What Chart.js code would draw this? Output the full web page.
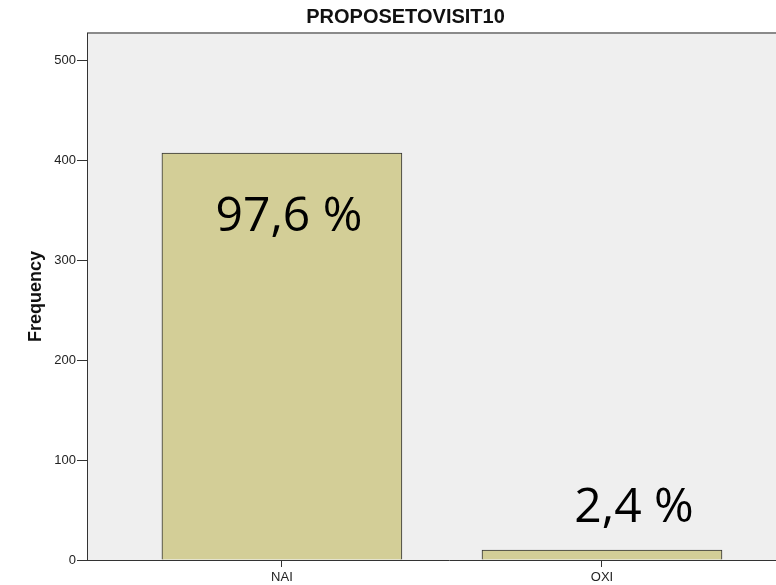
<!DOCTYPE html>
<html>
<head>
<meta charset="utf-8">
<script src="https://cdn.jsdelivr.net/npm/chart.js@4/dist/chart.umd.min.js"></script>
<style>
html,body{margin:0;padding:0;background:#fff;overflow:hidden;width:776px;height:585px;}
canvas{display:block;}
</style>
</head>
<body>
<canvas id="c" width="811" height="585"></canvas>
<script>
const categories = ['NAI', 'OXI'];
const frequencies = [407, 10];
const percentLabels = ['97,6 %', '2,4 %'];
const yTicks = [0, 100, 200, 300, 400, 500];

const bgPlugin = {
  id: 'bg',
  beforeDraw(chart) {
    const {ctx, chartArea: a} = chart;
    ctx.save();
    ctx.fillStyle = '#fff';
    ctx.fillRect(0, 0, chart.width, chart.height);
    ctx.fillStyle = '#efefef';
    ctx.fillRect(a.left, a.top, a.right - a.left, a.bottom - a.top);
    ctx.strokeStyle = '#8a8a8a';
    ctx.lineWidth = 2;
    ctx.beginPath();
    ctx.moveTo(a.left, a.top);
    ctx.lineTo(a.right, a.top);
    ctx.stroke();
    ctx.restore();
  }
};

const pctPlugin = {
  id: 'pct',
  afterDatasetsDraw(chart) {
    const {ctx, scales: {x, y}} = chart;
    const anchors = [[0.022, 329], [0.1, 38]];
    ctx.save();
    ctx.font = '48px "Open Sans"';
    ctx.fillStyle = '#000';
    ctx.textAlign = 'center';
    ctx.textBaseline = 'alphabetic';
    percentLabels.forEach((t, i) => {
      ctx.fillText(t, x.getPixelForValue(i + anchors[i][0]), y.getPixelForValue(anchors[i][1]));
    });
    ctx.restore();
  }
};

new Chart(document.getElementById('c'), {
  type: 'bar',
  data: {
    datasets: [{
      data: categories.map((c, i) => ({x: i, y: frequencies[i]})),
      backgroundColor: '#d3ce97',
      borderColor: '#333',
      borderWidth: 1,
      barThickness: 240
    }]
  },
  options: {
    responsive: false,
    animation: false,
    layout: {padding: 0},
    plugins: {
      legend: {display: false},
      tooltip: {enabled: false},
      title: {
        display: true,
        text: 'PROPOSETOVISIT10',
        color: '#111',
        font: {family: 'Liberation Sans', size: 20, weight: 'bold', lineHeight: 1.2},
        padding: {top: 5, bottom: 4}
      }
    },
    scales: {
      x: {
        type: 'linear',
        offset: false,
        min: -0.609,
        max: 1.653,
        afterBuildTicks(s) { s.ticks = categories.map((c, i) => ({value: i})); },
        afterFit(s) { s.height = 25; },
        ticks: {
          callback: (v) => categories[v],
          color: '#222',
          font: {family: 'Liberation Sans', size: 13},
          padding: 3,
          maxRotation: 0
        },
        grid: {offset: false, drawOnChartArea: false, tickLength: 7, tickColor: '#333', tickWidth: 1},
        border: {color: '#333', width: 1}
      },
      y: {
        min: 0,
        max: 527,
        afterBuildTicks(s) { s.ticks = yTicks.map(v => ({value: v})); },
        afterFit(s) { s.width = 87; },
        ticks: {
          color: '#222',
          font: {family: 'Liberation Sans', size: 13},
          padding: 1
        },
        grid: {drawOnChartArea: false, tickLength: 10, tickColor: '#333', tickWidth: 1},
        border: {color: '#333', width: 1},
        title: {
          display: true,
          text: 'Frequency',
          color: '#111',
          font: {family: 'Liberation Sans', size: 18, weight: 'bold', lineHeight: 1.2},
          padding: {top: 25, bottom: 0}
        }
      }
    }
  },
  plugins: [bgPlugin, pctPlugin]
});
</script>
</body>
</html>
